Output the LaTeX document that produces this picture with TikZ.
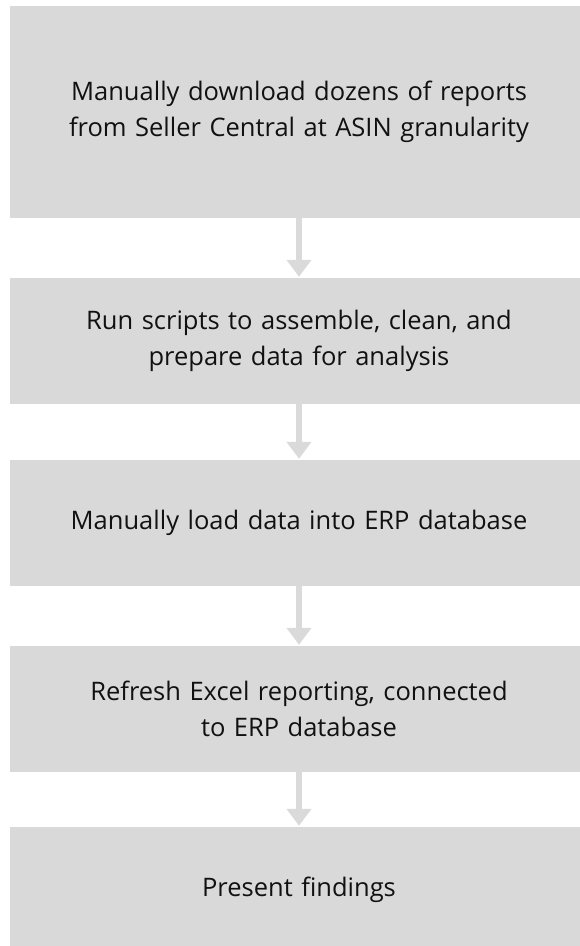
\documentclass[tikz,border=0pt]{standalone}
\usepackage{fontspec}
\setmainfont{Open Sans}
\usetikzlibrary{arrows.meta}
\definecolor{boxgray}{HTML}{D9D9D9}
\definecolor{arrowgray}{HTML}{DADADA}
\definecolor{textdark}{HTML}{111111}
\tikzset{
stepbox/.style={fill=boxgray, minimum width=578pt, text width=560pt, align=center,
  inner sep=0pt, text=textdark, font=\fontsize{25.5}{36}\selectfont},
flow/.style={draw=arrowgray, line width=6pt, -{Triangle[width=24pt,length=17pt]}, shorten >=1pt}
}

\begin{document}
\begin{tikzpicture}[x=1pt,y=-1pt]
    \useasboundingbox (0,0) rectangle (579,946);

    \node[stepbox, minimum height=212pt] (S1) at (299,112) {Manually download dozens of reports\\from Seller Central at ASIN granularity};
    \node[stepbox, minimum height=126pt] (S2) at (299,341) {Run scripts to assemble, clean, and\\prepare data for analysis};
    \node[stepbox, minimum height=126pt] (S3) at (299,523) {Manually load data into ERP database};
    \node[stepbox, minimum height=126pt] (S4) at (299,709) {Refresh Excel reporting, connected\\to ERP database};
    \node[stepbox, minimum height=126pt] (S5) at (299,890) {Present findings};

    \draw[flow] (S1) -- (S2);
    \draw[flow] (S2) -- (S3);
    \draw[flow] (S3) -- (S4);
    \draw[flow] (S4) -- (S5);

\end{tikzpicture}
\end{document}
